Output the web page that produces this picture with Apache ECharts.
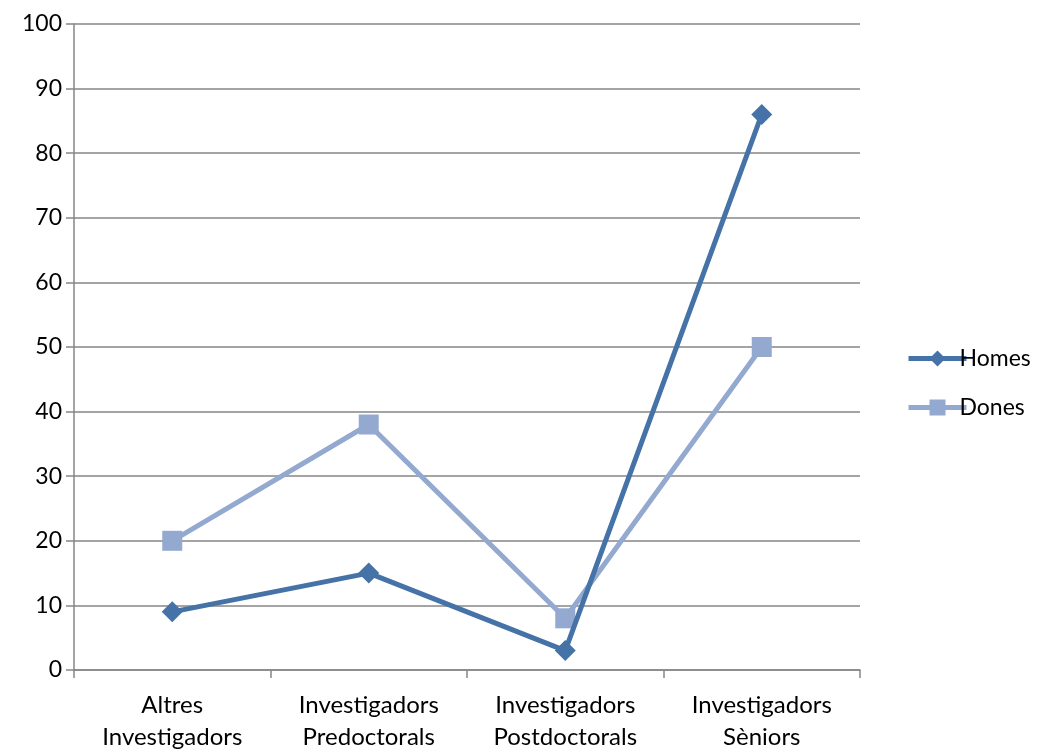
<!DOCTYPE html>
<html>
<head>
<meta charset="utf-8">
<script src="https://cdn.jsdelivr.net/npm/echarts@6/dist/echarts.min.js"></script>
<style>
  html, body { margin: 0; padding: 0; background: #fff; }
  #chart { width: 1037px; height: 749px; }
</style>
</head>
<body>
<div id="chart"></div>
<script>
// categories (eix X)
const categories = [
	"Altres\nInvestigadors",
	"Investigadors\nPredoctorals",
	"Investigadors\nPostdoctorals",
	"Investigadors\nSèniors",
];
// valors de cada sèrie
const homes = [9, 15, 3, 86];
const dones = [20, 38, 8, 50];

const chart = echarts.init(document.getElementById("chart"));
const font = "Lato, 'Open Sans', sans-serif";

const option = {
	animation: false,
	textStyle: { fontFamily: font },
	grid: {
		left: 74,
		right: 177,
		top: 24,
		bottom: 79,
		outerBoundsMode: "none",
	},
	legend: {
		orient: "vertical",
		left: 901,
		top: 342,
		itemGap: 26,
		itemWidth: 58,
		itemHeight: 20,
		textStyle: { fontSize: 23, color: "#000", fontFamily: font, padding: [0, 0, 0, -12] },
		data: [
			{ name: "Homes", lineStyle: { width: 5 } },
			{ name: "Dones", lineStyle: { width: 5 } },
		],
	},
	xAxis: {
		type: "category",
		data: categories,
		boundaryGap: true,
		axisLine: { lineStyle: { color: "#868686", width: 1.5 } },
		axisTick: { show: true, length: 8, lineStyle: { color: "#868686", width: 1.5 } },
		axisLabel: {
			color: "#000",
			fontSize: 24,
			lineHeight: 32,
			margin: 19,
			fontFamily: font,
		},
	},
	yAxis: {
		type: "value",
		min: 0,
		max: 100,
		interval: 10,
		axisLine: { show: true, lineStyle: { color: "#868686", width: 1.5 } },
		axisTick: { show: true, inside: false, length: 8, lineStyle: { color: "#868686", width: 1.5 } },
		axisLabel: { color: "#000", fontSize: 23, margin: 12, fontFamily: font },
		splitLine: { lineStyle: { color: "#868686", width: 1.5 } },
	},
	series: [
		{
			name: "Homes",
			type: "line",
			data: homes,
			symbol: "diamond",
			symbolSize: 21,
			color: "#4572A7",
			lineStyle: { width: 5, color: "#4572A7" },
			itemStyle: { color: "#4572A7" },
			z: 3,
		},
		{
			name: "Dones",
			type: "line",
			data: dones,
			symbol: "rect",
			symbolSize: 20,
			color: "#93A9CF",
			lineStyle: { width: 5, color: "#93A9CF" },
			itemStyle: { color: "#93A9CF" },
			z: 2,
		},
	],
};

chart.setOption(option);
</script>
</body>
</html>
